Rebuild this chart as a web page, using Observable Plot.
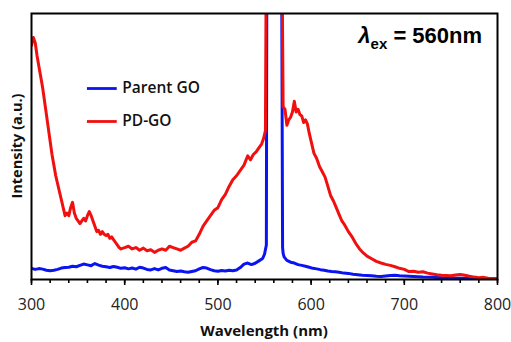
<!DOCTYPE html>
<html><head><meta charset="utf-8">
<script src="https://cdn.jsdelivr.net/npm/d3@7"></script>
<script src="https://cdn.jsdelivr.net/npm/@observablehq/plot@0.6"></script>
<style>body{margin:0;background:#fff}</style>
</head><body><div id="chart"></div>
<script>
const redWl = [300,302,304,306,308,310,312,314,316,318,320,322,324,326,328,330,332,334,336,338,340,342,344,346,348,350,352,354,356,358,360,362,364,366,368,370,372,374,376,378,380,382,384,386,388,390,392,394,396,400,404,408,412,416,420,424,428,432,436,440,444,448,452,456,460,464,468,472,476,480,484,488,492,496,500,504,508,512,516,520,524,528,532,535,538,541,544,547,549,551,552,568,569,570,572,574,576,578,580,582,584,586,588,590,592,594,596,598,600,603,606,609,612,615,618,621,624,627,630,633,636,640,644,648,652,656,660,665,670,675,680,685,690,695,700,705,710,715,720,725,730,735,740,745,750,755,760,765,770,775,780,785,790,795,800];
const redVal = [88,91,89,84,80,76,72,67,62,57,52,47,43,39,36,33,30,27,24,25,24,27,29,25,23,22,21,22,23,22,24,25.5,24,22,20,18,18.5,17,18,17,16.5,17,15.5,16,15,14,13,12,11.5,12,12.5,11.5,12,11,11.8,10.8,11.2,10.2,11,11.5,11,12.5,12,11.5,11,11.8,12.5,14,14.5,17,20,22,24,26,27,30,32,35,37.5,39,41,43,46.5,45,47,48,49.5,51,53,56,130,130,110,65,64,58,60,61,63,67,63,64,62,61.5,59,60,58.5,55,52,47.5,45.5,42.5,40.5,38.5,35,31.5,29.5,27,24.5,22,20.5,18,16,13.5,11.5,10,8.8,7.8,6.8,6.2,5.7,5.3,4.8,4.2,3.8,3,3.1,2.7,2.9,2.4,2.1,1.8,1.6,1.5,1.4,1.7,1.9,1.6,1.2,0.9,0.7,0.8,0.5,0.4,0.3];
const blueWl = [300,304,308,312,316,320,324,328,332,336,340,344,348,352,356,360,364,368,372,376,380,384,388,392,396,400,404,408,412,416,420,424,428,432,436,440,444,448,452,456,460,464,468,472,476,480,484,488,492,496,500,504,508,512,516,520,524,528,532,536,540,544,548,550,552,552.6,568.3,569.4,570,571,574,578,582,586,590,594,598,602,606,610,614,618,622,626,630,635,640,645,650,655,660,665,670,675,680,685,690,695,700,710,720,730,740,750,760,770,780,790,800];
const blueVal = [4.2,3.8,4.1,3.9,3.5,3.3,3.5,3.8,4.3,4.5,4.6,5,4.8,5.3,5.8,5.5,5.2,6,5.4,5,4.8,4.5,4.9,4.6,4.2,4.4,4,4.3,3.9,4.6,4.3,3.8,3.6,4.1,3.6,4.2,4.5,3.6,3.3,3,3.2,2.9,2.7,3,3.3,4,4.5,4.3,3.7,3.3,3.1,3.4,3.2,3.5,3.3,3.6,4.5,5.8,6.2,5.6,6.1,7,7.9,9.5,13,130,130,12,9.8,8.5,7.2,6.5,6.2,5.6,5.3,5,4.6,4.2,4,3.7,3.5,3.2,3,2.9,2.7,2.4,2.3,2,1.8,1.6,1.5,1.4,1.2,1.1,1.3,1.5,1.6,1.4,1.3,1.1,0.9,0.8,0.7,0.6,0.5,0.4,0.4,0.3,0.3];
const seriesNames = ["Parent GO","PD-GO"];
const seriesColors = ["#0a14f0","#f01010"];
const xTicks = [300,400,500,600,700,800];

const red = redWl.map((w,i)=>({w, v: redVal[i]}));
const blue = blueWl.map((w,i)=>({w, v: blueVal[i]}));
const legend = [
  {name: seriesNames[0], color: seriesColors[0], x1: 360, x2: 392, y: 71.8},
  {name: seriesNames[1], color: seriesColors[1], x1: 360, x2: 392, y: 59.4}
];

const plot = Plot.plot({
  width: 511, height: 342,
  marginLeft: 31, marginRight: 14, marginTop: 13, marginBottom: 63,
  style: {fontFamily: "'Open Sans', sans-serif", background: "#fff"},
  x: {domain: [300, 800]},
  y: {domain: [0, 100]},
  marks: [
    Plot.line(blue, {x: "w", y: "v", stroke: seriesColors[0], strokeWidth: 3, clip: true}),
    Plot.line(red, {x: "w", y: "v", stroke: seriesColors[1], strokeWidth: 3, clip: true}),
    Plot.axisX({ticks: d3.range(300, 801, 20), tickSize: 4, text: null, stroke: "#000", strokeWidth: 1.6}),
    Plot.axisX({ticks: xTicks, tickSize: 6, tickPadding: 13, fontSize: 16, fill: "#222", stroke: "#000", strokeWidth: 1.6, label: null}),
    Plot.axisY({ticks: [], label: null}),
    Plot.frame({stroke: "#000", strokeWidth: 2}),
    Plot.ruleY(legend, {x1: "x1", x2: "x2", y: "y", stroke: "color", strokeWidth: 2.8}),
    Plot.text(legend, {x: "x2", y: "y", text: "name", dx: 5, textAnchor: "start", fontSize: 15.5, fontWeight: 600, fill: "#111"})
  ]
});
document.getElementById("chart").appendChild(plot);
const svg = d3.select(plot);
const sx = plot.scale("x"), sy = plot.scale("y");
const t = svg.append("text")
  .attr("x", sx.apply(784)).attr("y", sy.apply(88.7))
  .attr("text-anchor", "end")
  .attr("font-family", "'Liberation Sans', Arial, sans-serif")
  .attr("font-weight", "bold").attr("font-size", 22).attr("fill", "#000");
t.append("tspan").attr("font-style", "italic").text("λ");
t.append("tspan").attr("font-size", 15).attr("dy", 6).text("ex");
t.append("tspan").attr("dy", -6).text(" = 560nm");
svg.append("text")
  .attr("x", (sx.apply(300)+sx.apply(800))/2).attr("y", 336)
  .attr("text-anchor", "middle").attr("font-weight", "bold").attr("font-size", 15)
  .attr("font-family", "'Open Sans', sans-serif").attr("fill", "#111")
  .text("Wavelength (nm)");
svg.append("text")
  .attr("transform", `translate(22,${(sy.apply(0)+sy.apply(100))/2}) rotate(-90)`)
  .attr("text-anchor", "middle").attr("font-weight", "bold").attr("font-size", 14.5)
  .attr("font-family", "'Open Sans', sans-serif").attr("fill", "#111")
  .text("Intensity (a.u.)");
</script></body></html>
